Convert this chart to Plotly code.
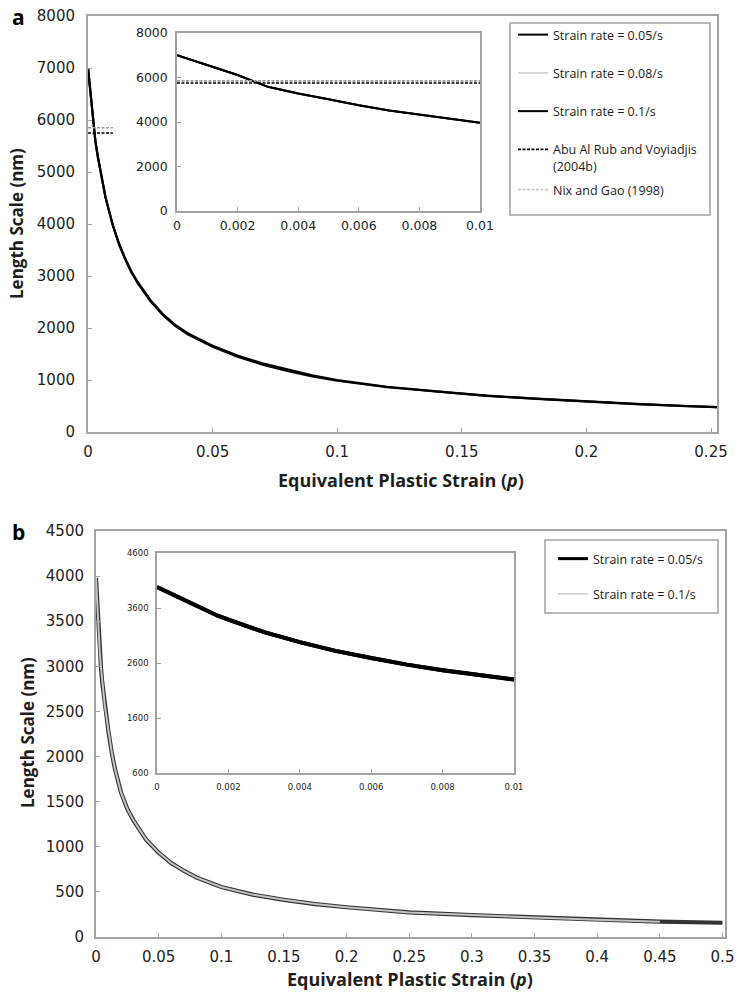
import plotly.graph_objects as go

W, H = 739, 992

# ---------------- data: panel a ----------------
p_a = [0, 0.001, 0.002, 0.003, 0.004, 0.005, 0.006, 0.007, 0.008, 0.009, 0.01,
       0.0125, 0.015, 0.0175, 0.02, 0.025, 0.03, 0.035, 0.04, 0.05, 0.06, 0.07,
       0.08, 0.09, 0.1, 0.12, 0.14, 0.16, 0.18, 0.2, 0.22, 0.24, 0.253]
L_a_005 = [7000, 6560, 6110, 5580, 5280, 5020, 4750, 4520, 4330, 4130, 3970,
           3620, 3330, 3080, 2880, 2540, 2270, 2060, 1900, 1660, 1470, 1320,
           1200, 1090, 1000, 870, 780, 700, 640, 585, 540, 500, 478]
L_a_008 = [7000, 6560, 6110, 5580, 5280, 5020, 4750, 4520, 4330, 4130, 3970,
           3610, 3320, 3070, 2870, 2530, 2260, 2050, 1890, 1650, 1460, 1305,
           1185, 1080, 990, 865, 775, 698, 638, 583, 538, 499, 477]
L_a_01 = [7000, 6560, 6110, 5580, 5280, 5020, 4750, 4520, 4330, 4130, 3970,
          3600, 3310, 3060, 2860, 2520, 2250, 2040, 1880, 1640, 1450, 1295,
          1175, 1070, 985, 860, 772, 696, 636, 582, 537, 498, 476]
ref_p = [0, 0.01]
L_abu = [5750, 5750]
L_nix = [5850, 5850]

# ---------------- data: panel b ----------------
p_b = [0, 0.0017, 0.002, 0.003, 0.004, 0.005, 0.006, 0.007, 0.008, 0.009, 0.01,
       0.0125, 0.015, 0.02, 0.025, 0.03, 0.04, 0.05, 0.06, 0.07, 0.08, 0.1,
       0.125, 0.15, 0.175, 0.2, 0.25, 0.3, 0.35, 0.4, 0.45, 0.5]
L_b_005 = [3980, 3460, 3390, 3160, 2980, 2820, 2690, 2570, 2470, 2370, 2270,
           2050, 1870, 1600, 1420, 1290, 1080, 935, 820, 735, 660, 555,
           470, 412, 365, 330, 272, 242, 215, 192, 170, 158]
p_b01 = [0, 0.0017, 0.002, 0.003, 0.004, 0.005, 0.006, 0.007, 0.008, 0.009, 0.01,
         0.0125, 0.015, 0.02, 0.025, 0.03, 0.04, 0.05, 0.06, 0.07, 0.08, 0.1,
         0.125, 0.15, 0.175, 0.2, 0.25, 0.3, 0.35, 0.4, 0.45]
L_b_01 = [3980, 3460, 3390, 3160, 2980, 2820, 2690, 2570, 2470, 2370, 2270,
          2050, 1870, 1600, 1420, 1290, 1080, 935, 820, 735, 660, 555,
          470, 412, 365, 330, 272, 242, 215, 192, 170]

legend_a = ["Strain rate = 0.05/s", "Strain rate = 0.08/s", "Strain rate = 0.1/s",
            "Abu Al Rub and Voyiadjis<br>(2004b)", "Nix and Gao (1998)"]
legend_b = ["Strain rate = 0.05/s", "Strain rate = 0.1/s"]
xtitle = "Equivalent Plastic Strain (<i>p</i>)"
ytitle = "Length Scale (nm)"

FONT = "Open Sans"
NUMF = "DejaVu Sans"
AX = "#a3a3a3"
TXT = "#1e1e1e"
LGRAY = "#c8c8c8"
DGRAY = "#9a9a9a"


def dom_x(a, b):
    return [a / W, b / W]


def dom_y(top, bottom):
    return [1 - bottom / H, 1 - top / H]


fig = go.Figure()

DASH = "3px,1.5px"
# panel a main
fig.add_trace(go.Scatter(x=p_a, y=L_a_008, mode="lines", line=dict(color=LGRAY, width=2),
                         xaxis="x", yaxis="y", showlegend=False))
fig.add_trace(go.Scatter(x=p_a, y=L_a_005, mode="lines", line=dict(color="black", width=2.2),
                         xaxis="x", yaxis="y", showlegend=False))
fig.add_trace(go.Scatter(x=p_a, y=L_a_01, mode="lines", line=dict(color="black", width=2.2),
                         xaxis="x", yaxis="y", showlegend=False))
fig.add_trace(go.Scatter(x=ref_p, y=L_nix, mode="lines", line=dict(color=DGRAY, width=1.6, dash=DASH),
                         xaxis="x", yaxis="y", showlegend=False))
fig.add_trace(go.Scatter(x=ref_p, y=L_abu, mode="lines", line=dict(color="black", width=1.6, dash=DASH),
                         xaxis="x", yaxis="y", showlegend=False))
# panel a inset
fig.add_trace(go.Scatter(x=p_a, y=L_a_008, mode="lines", line=dict(color=LGRAY, width=2),
                         xaxis="x3", yaxis="y3", showlegend=False))
fig.add_trace(go.Scatter(x=p_a, y=L_a_005, mode="lines", line=dict(color="black", width=2),
                         xaxis="x3", yaxis="y3", showlegend=False))
fig.add_trace(go.Scatter(x=p_a, y=L_a_01, mode="lines", line=dict(color="black", width=2),
                         xaxis="x3", yaxis="y3", showlegend=False))
fig.add_trace(go.Scatter(x=ref_p, y=L_nix, mode="lines", line=dict(color=DGRAY, width=1.6, dash=DASH),
                         xaxis="x3", yaxis="y3", showlegend=False))
fig.add_trace(go.Scatter(x=ref_p, y=L_abu, mode="lines", line=dict(color="black", width=1.6, dash=DASH),
                         xaxis="x3", yaxis="y3", showlegend=False))

# legend a entries (Nix in its own legend to control spacing)
styles_a = [dict(color="black", width=2), dict(color=LGRAY, width=1.5), dict(color="black", width=2),
            dict(color="black", width=1.6, dash=DASH), dict(color=LGRAY, width=1.6, dash=DASH)]
legs_a = ["legend", "legend", "legend", "legend", "legend3"]
for i, (name, st, lg) in enumerate(zip(legend_a, styles_a, legs_a)):
    fig.add_trace(go.Scatter(x=[None], y=[None], mode="lines", name=name, line=st,
                             xaxis="x", yaxis="y", legend=lg, legendgroup="a%d" % i,
                             showlegend=True))

# panel b main
fig.add_trace(go.Scatter(x=p_b, y=L_b_005, mode="lines", line=dict(color="#333333", width=4.2),
                         xaxis="x2", yaxis="y2", showlegend=False))
fig.add_trace(go.Scatter(x=p_b01, y=L_b_01, mode="lines", line=dict(color="#c4c4c4", width=2),
                         xaxis="x2", yaxis="y2", showlegend=False))
# panel b inset
fig.add_trace(go.Scatter(x=p_b01, y=L_b_01, mode="lines", line=dict(color="black", width=4),
                         xaxis="x4", yaxis="y4", showlegend=False))
fig.add_trace(go.Scatter(x=p_b, y=L_b_005, mode="lines", line=dict(color="black", width=4),
                         xaxis="x4", yaxis="y4", showlegend=False))

styles_b = [dict(color="black", width=3), dict(color=LGRAY, width=1.5)]
for i, (name, st) in enumerate(zip(legend_b, styles_b)):
    fig.add_trace(go.Scatter(x=[None], y=[None], mode="lines", name=name, line=st,
                             xaxis="x2", yaxis="y2", legend="legend2", legendgroup="b%d" % i,
                             showlegend=True))


def axis(domain, rng, dtick, size, lw, anchor, standoff, tick0=0, ticklen=4):
    return dict(domain=domain, range=rng, dtick=dtick, tick0=tick0, anchor=anchor,
                automargin=False,
                showline=True, linecolor=AX, linewidth=lw, mirror=True,
                ticks="inside", ticklen=ticklen, tickcolor=AX, tickwidth=1,
                showgrid=False, zeroline=False,
                tickfont=dict(family=NUMF, size=size, color=TXT),
                ticklabelstandoff=standoff)


leg_common = dict(xanchor="left", yanchor="top", bgcolor="rgba(0,0,0,0)", borderwidth=0,
                  traceorder="grouped")


def ann(text, x, y, size, angle=0, color=TXT):
    return dict(text=text, x=x / W, y=1 - y / H, xref="paper", yref="paper",
                xanchor="center", yanchor="middle", textangle=angle, showarrow=False,
                font=dict(family=FONT, size=size, color=color))


fig.update_layout(
    width=W, height=H, autosize=False,
    margin=dict(l=0, r=0, t=0, b=0, autoexpand=False),
    paper_bgcolor="white", plot_bgcolor="white",
    font=dict(family=FONT, color=TXT),
    xaxis=axis(dom_x(88, 717), [0, 0.2524], 0.05, 15, 2, "y", 5),
    yaxis=axis(dom_y(16, 432), [0, 8000], 1000, 15, 2, "x", 8),
    xaxis3=axis(dom_x(177, 480), [0, 0.01], 0.002, 12.5, 1.5, "y3", 2),
    yaxis3=axis(dom_y(33, 211), [0, 8000], 2000, 12.5, 1.5, "x3", 5),
    xaxis2=axis(dom_x(96, 725), [0, 0.502], 0.05, 15, 2, "y2", 5),
    yaxis2=axis(dom_y(531, 937), [0, 4500], 500, 15, 2, "x2", 7),
    xaxis4=axis(dom_x(157, 514), [0, 0.01], 0.002, 8.5, 1.5, "y4", 5),
    yaxis4=axis(dom_y(553, 773), [600, 4600], 1000, 8.5, 1.5, "x4", 5, tick0=600),
    legend=dict(x=513 / W, y=1 - 20 / H, tracegroupgap=19, valign="top",
                font=dict(family=FONT, size=12.5, color=TXT), **leg_common),
    legend3=dict(x=513 / W, y=1 - 175 / H,
                 font=dict(family=FONT, size=12.5, color=TXT), **leg_common),
    legend2=dict(x=553 / W, y=1 - 544 / H, tracegroupgap=16,
                 font=dict(family=FONT, size=12.5, color=TXT), **leg_common),
    shapes=[
        dict(type="rect", xref="paper", yref="paper", x0=510 / W, x1=710 / W,
             y0=1 - 215 / H, y1=1 - 23 / H, line=dict(color=AX, width=1.5)),
        dict(type="rect", xref="paper", yref="paper", x0=545 / W, x1=718 / W,
             y0=1 - 613 / H, y1=1 - 540 / H, line=dict(color=AX, width=1.5)),
    ],
    annotations=[
        ann("<b>a</b>", 18, 17, 21, color="black"),
        ann("<b>b</b>", 18, 532, 21, color="black"),
        ann("<b>" + ytitle + "</b>", 16, 224, 17, angle=-90),
        ann("<b>" + ytitle + "</b>", 27, 733, 17, angle=-90),
        ann("<b>" + xtitle + "</b>", 401, 480, 18),
        ann("<b>" + xtitle + "</b>", 410, 979, 18),
    ],
)

fig.write_html("out.html")
